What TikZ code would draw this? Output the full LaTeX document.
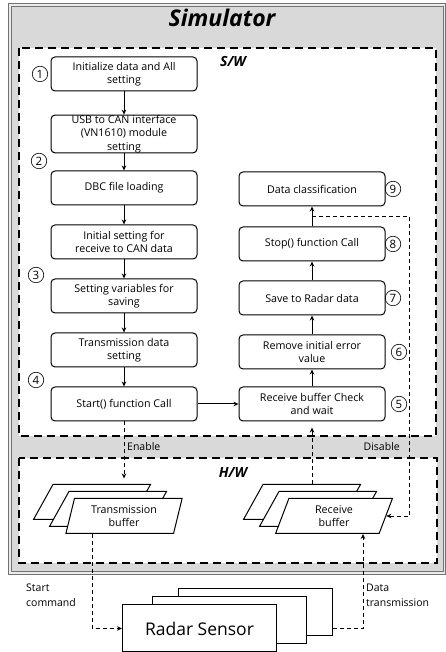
\documentclass[tikz,border=0pt]{standalone}
\usepackage{fontspec}
\setmainfont{Open Sans}
\usetikzlibrary{positioning}
\usetikzlibrary{shapes.geometric,arrows.meta,calc}

\tikzset{
	proc/.style={draw,line width=1pt,rounded corners=4pt,fill=white,minimum width=146pt,minimum height=34pt,align=center,inner sep=1.5pt,font=\fontsize{10.7}{13.5}\selectfont},
	num/.style={draw,circle,line width=0.6pt,minimum size=15.5pt,inner sep=0pt,font=\fontsize{11.5}{12}\selectfont},
	buf/.style={draw,line width=1pt,fill=white,trapezium,trapezium left angle=76,trapezium right angle=104,trapezium stretches=true,minimum width=117pt,minimum height=35pt,align=center,inner sep=1pt,font=\fontsize{10.7}{13.5}\selectfont},
	sensor/.style={draw,line width=1pt,fill=white,minimum width=154pt,minimum height=47pt,font=\fontsize{17.5}{17.5}\selectfont},
	frame/.style={line width=1.4pt,dash pattern=on 8pt off 5pt,fill=white},
	sig/.style={line width=0.9pt,dash pattern=on 4pt off 3pt},
	lbl/.style={align=left,inner sep=0pt,font=\fontsize{10.5}{14.5}\selectfont},
}

\begin{document}
\begin{tikzpicture}[x=1pt,y=1pt,node distance=54pt,on grid,>={Stealth[length=5pt,width=4.5pt]}]
		\useasboundingbox (0,0) rectangle (446,652);
		% simulator, S/W and H/W frames
		\draw[draw=black!55,double=black!8,double distance=1.5pt,line width=0.8pt,fill=black!15] (10,647) rectangle (444.5,79);
		\node[font=\fontsize{23}{23}\selectfont\bfseries\itshape] (title) at (222,634) {Simulator};
		\draw[frame] (19,604) rectangle (436,216);
		\draw[frame] (19,194) rectangle (437,89);
		\node[font=\fontsize{14}{14}\selectfont\bfseries\itshape] (swl) at (233,590) {S/W};
		\node[font=\fontsize{14}{14}\selectfont\bfseries\itshape] (hwl) at (233,179) {H/W};
		
		% left column
		\node[proc] (init) at (124,578) {Initialize data and All\\setting};
		\node[proc,inner ysep=0pt] (usb) [below=60pt of init] {USB to CAN interface\\(VN1610) module\\setting};
		\node[proc] (dbc) [below=of usb] {DBC file loading};
		\node[proc] (setrx) [below=of dbc] {Initial setting for\\receive to CAN data};
		\node[proc] (setvar) [below=of setrx] {Setting variables for\\saving};
		\node[proc] (txset) [below=of setvar] {Transmission data\\setting};
		\node[proc] (start) [below=of txset] {Start() function Call};
		
		% right column
		\node[proc] (rcheck) [right=188pt of start] {Receive buffer Check\\and wait};
		\node[proc] (rmerr) [above=52pt of rcheck] {Remove initial error\\value};
		\node[proc] (save) [above=of rmerr] {Save to Radar data};
		\node[proc] (stop) [above=of save] {Stop() function Call};
		\node[proc] (dcls) [above=55pt of stop] {Data classification};
		
		% step numbers
		\node[num] (n1) [left=84pt of init] {1};
		\node[num] (n2) [below left=27pt and 85pt of usb] {2};
		\node[num] (n3) [above left=21pt and 88pt of setvar] {3};
		\node[num] (n4) [above left=24pt and 88pt of start] {4};
		\node[num] (n5) [right=87pt of rcheck] {5};
		\node[num] (n6) [right=87pt of rmerr] {6};
		\node[num] (n7) [right=81pt of save] {7};
		\node[num] (n8) [right=81pt of stop] {8};
		\node[num] (n9) [right=81pt of dcls] {9};
		
		% buffers
		\node[buf] (tbufA) at (92,150) {};
		\node[buf] (tbufB) [below right=7pt and 16pt of tbufA] {};
		\node[buf] (tbuf) [below right=7pt and 16pt of tbufB] {Transmission\\buffer};
		\node[buf] (rbufA) at (302,150) {};
		\node[buf] (rbufB) [below right=7pt and 16pt of rbufA] {};
		\node[buf] (rbuf) [below right=7pt and 16pt of rbufB] {Receive\\buffer};
		
		% radar sensor
		\node[sensor] (radarC) at (255.5,39.5) {};
		\node[sensor] (radarB) [below left=8pt and 26pt of radarC] {};
		\node[sensor] (radar) [below left=8pt and 30pt of radarB] {Radar\ Sensor};
		
		\path[->,line width=1pt]
		(init) edge (usb)
		(usb) edge (dbc)
		(dbc) edge (setrx)
		(setrx) edge (setvar)
		(setvar) edge (txset)
		(txset) edge (start)
		(start) edge (rcheck)
		(rcheck) edge (rmerr)
		(rmerr) edge (save)
		(save) edge (stop)
		(stop) edge (dcls);
		
		% signals
		\coordinate (dmid) at ($(stop.north)!0.5!(dcls.south)$);
		\coordinate (dx) at ([xshift=24pt]rcheck.east);
		\draw[sig,->,shorten >=5.5pt] (start.south) -- (start |- tbufA.north);
		\draw[sig,->,shorten >=6pt] (rcheck |- rbufA.north) -- (rcheck.south);
		\draw[sig,->] (dmid) -| (dx |- rbuf.east) -- (rbuf.east);
		\draw[sig,->] ([xshift=-32pt]tbuf.south) |- (radar.west);
		\draw[sig,->] (radarC.east |- radar.west) -| ([xshift=29pt]rbuf.south);
		
		\node[lbl,anchor=west] (enl) at (127,205) {Enable};
		\node[lbl,anchor=east] (disl) at (400,205) {Disable};
		\node[lbl,anchor=north west] (scl) at (26,68) {Start\\command};
		\node[lbl,anchor=north west] (dtl) at (366,68) {Data\\transmission};
\end{tikzpicture}
\end{document}
